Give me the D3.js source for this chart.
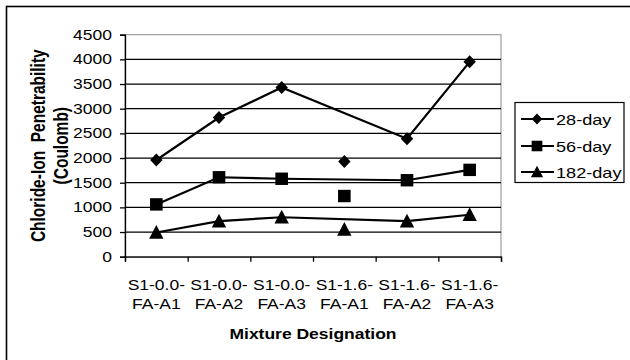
<!DOCTYPE html>
<html><head><meta charset="utf-8">
<script src="https://cdn.jsdelivr.net/npm/d3@7"></script>
<style>body{margin:0;background:#fff}svg{display:block}text{font-family:"Liberation Sans",Arial,sans-serif;fill:#000;white-space:pre}</style>
</head><body><div id="c"></div>
<script>
const categories = ["S1-0.0-FA-A1","S1-0.0-FA-A2","S1-0.0-FA-A3","S1-1.6-FA-A1","S1-1.6-FA-A2","S1-1.6-FA-A3"];
const catLine1 = ["S1-0.0-","S1-0.0-","S1-0.0-","S1-1.6-","S1-1.6-","S1-1.6-"];
const catLine2 = ["FA-A1","FA-A2","FA-A3","FA-A1","FA-A2","FA-A3"];
const seriesNames = ["28-day","56-day","182-day"];
const day28 = [1960, 2820, 3430, 1930, 2390, 3950];
const day56 = [1060, 1610, 1580, 1230, 1550, 1760];
const day182 = [490, 720, 800, 550, 720, 850];
const yTicks = [0,500,1000,1500,2000,2500,3000,3500,4000,4500];
const connected = [0,1,2,4,5]; // the S1-1.6-FA-A1 points stand alone

const W=630,H=360,SX=1.25;
const L=125,R=501,T=34.7,B=256.7;
const svg=d3.select("#c").append("svg").attr("width",W).attr("height",H);

svg.append("rect").attr("x",6.5).attr("y",6.5).attr("width",700).attr("height",500)
  .attr("fill","none").attr("stroke","#000").attr("stroke-width",1.6);

const y=d3.scaleLinear().domain([0,4500]).range([B,T]);
const xEdge=d3.scaleLinear().domain([0,6]).range([L,R]);
const x=d3.scaleBand().domain(categories).range([L,R]);
const cx=c=>x(c)+x.bandwidth()/2;

svg.append("rect").attr("x",L).attr("y",T).attr("width",R-L).attr("height",B-T)
  .attr("fill","none").attr("stroke","#8a8a8a").attr("stroke-width",1);
svg.append("g").selectAll("line").data(yTicks.filter(v=>v>0&&v<4500)).join("line")
  .attr("x1",L).attr("x2",R).attr("y1",d=>y(d)).attr("y2",d=>y(d))
  .attr("stroke","#000").attr("stroke-width",1.3);

const gy=svg.append("g").attr("transform",`translate(${L},0)`)
  .call(d3.axisLeft(y).tickValues(yTicks).tickSize(5).tickFormat(""));
gy.selectAll("path,line").attr("stroke","#000").attr("stroke-width",1.3);
svg.append("g").selectAll("text").data(yTicks).join("text")
  .attr("transform",d=>`translate(112,${y(d)+5}) scale(${SX},1)`)
  .attr("text-anchor","end").attr("font-size",14).text(d=>d);

const gx=svg.append("g").attr("transform",`translate(0,${B})`)
  .call(d3.axisBottom(xEdge).tickValues(d3.range(7)).tickSize(5).tickFormat(""));
gx.selectAll("path,line").attr("stroke","#000").attr("stroke-width",1.3);
const lab=svg.append("g").selectAll("text").data(categories).join("text")
  .attr("transform",d=>`translate(${cx(d)},0) scale(${SX},1)`)
  .attr("text-anchor","middle").attr("font-size",14);
lab.append("tspan").attr("x",0).attr("y",290).text((d,i)=>catLine1[i]);
lab.append("tspan").attr("x",0).attr("y",309).text((d,i)=>catLine2[i]);

svg.append("text").attr("transform",`translate(${(L+R)/2},339) scale(${SX},1)`)
  .attr("text-anchor","middle").attr("font-size",14).attr("font-weight","bold").text("Mixture Designation");
svg.append("text").attr("transform",`translate(45,${(T+B)/2}) scale(${SX},1) rotate(-90)`)
  .attr("text-anchor","middle").attr("font-size",15.5).attr("font-weight","bold").text("Chloride-Ion  Penetrability");
svg.append("text").attr("transform",`translate(68,${(T+B)/2}) scale(${SX},1) rotate(-90)`)
  .attr("text-anchor","middle").attr("font-size",15.5).attr("font-weight","bold").text("(Coulomb)");

function marker(g,i,px,py,k){
  if(i===0) g.append("path").attr("d",`M${px},${py-6.5*k}L${px+6.2*k},${py}L${px},${py+6.5*k}L${px-6.2*k},${py}Z`).attr("fill","#000");
  else if(i===1) g.append("rect").attr("x",px-6.3*k).attr("y",py-6.2*k).attr("width",12.6*k).attr("height",12.4*k).attr("fill","#000");
  else g.append("path").attr("d",`M${px},${py-7.5*k}L${px+7.2*k},${py+6.3*k}L${px-7.2*k},${py+6.3*k}Z`).attr("fill","#000");
}
const series=[day28,day56,day182];
const line=d3.line().x(d=>cx(categories[d.i])).y(d=>y(d.v));
series.forEach((vals,si)=>{
  const pts=connected.map(i=>({i,v:vals[i]}));
  svg.append("path").attr("d",line(pts)).attr("fill","none").attr("stroke","#000").attr("stroke-width",2.2);
  const g=svg.append("g");
  vals.forEach((v,i)=>marker(g,si,cx(categories[i]),y(v),1));
});

const lg=svg.append("g");
lg.append("rect").attr("x",515).attr("y",102.5).attr("width",109).attr("height",80)
  .attr("fill","#fff").attr("stroke","#000").attr("stroke-width",1.2);
const ly=[119,146,172];
seriesNames.forEach((n,i)=>{
  lg.append("line").attr("x1",521).attr("x2",554).attr("y1",ly[i]).attr("y2",ly[i]).attr("stroke","#000").attr("stroke-width",2.2);
  marker(lg,i,537,ly[i],0.85);
  lg.append("text").attr("transform",`translate(556,${ly[i]+5.5}) scale(${SX},1)`)
    .attr("font-size",14.5).text(n);
});
</script></body></html>
